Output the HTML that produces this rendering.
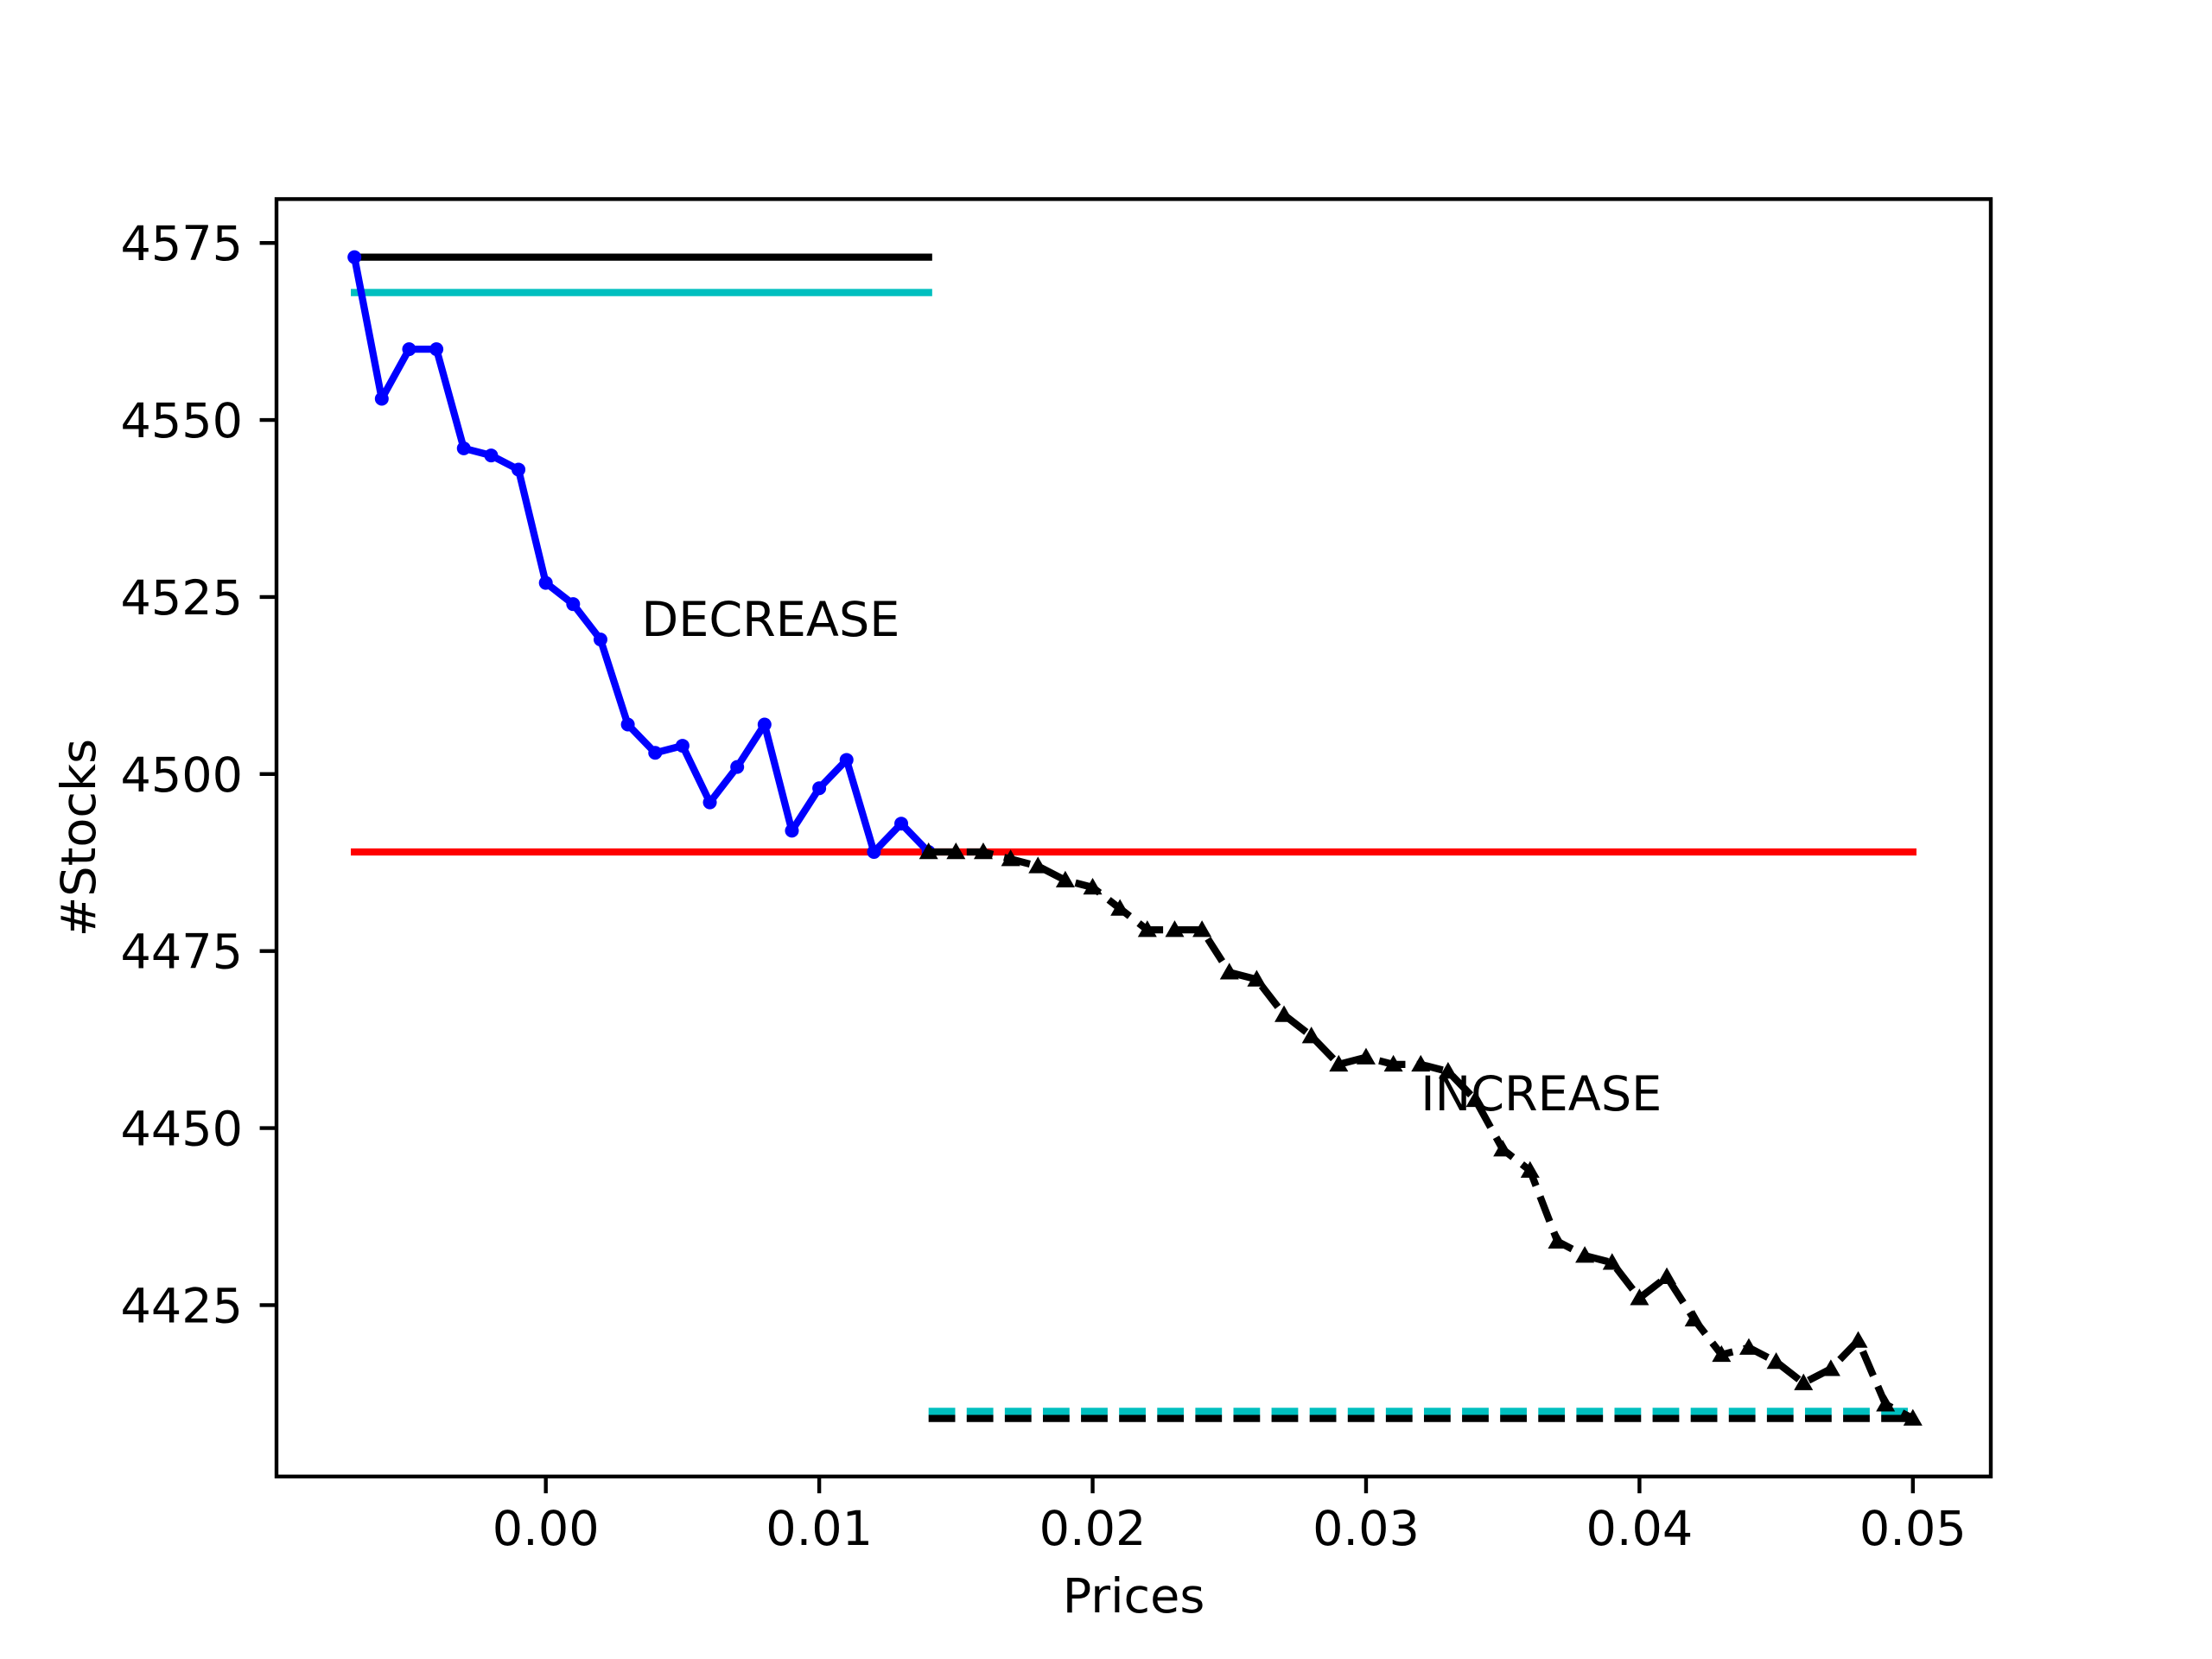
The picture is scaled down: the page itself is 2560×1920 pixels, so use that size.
<!DOCTYPE html>
<html><head><meta charset="utf-8"><style>
html,body{margin:0;padding:0;background:#fff}
svg{display:block;font-family:"DejaVu Sans","Liberation Sans",sans-serif}
</style></head><body>
<svg id="chart" width="2560" height="1920" viewBox="0 0 2560 1920" xmlns="http://www.w3.org/2000/svg">
<rect width="2560" height="1920" fill="#fff"/>
<g id="plot"></g>
<g id="axes"></g>
</svg>
<script>
const decX = [-0.007,-0.006,-0.005,-0.004,-0.003,-0.002,-0.001,0,0.001,0.002,0.003,0.004,0.005,0.006,0.007,0.008,0.009,0.010,0.011,0.012,0.013,0.014];
const decY = [4573,4553,4560,4560,4546,4545,4543,4527,4524,4519,4507,4503,4504,4496,4501,4507,4492,4498,4502,4489,4493,4489];
const incX = [0.014,0.015,0.016,0.017,0.018,0.019,0.020,0.021,0.022,0.023,0.024,0.025,0.026,0.027,0.028,0.029,0.030,0.031,0.032,0.033,0.034,0.035,0.036,0.037,0.038,0.039,0.040,0.041,0.042,0.043,0.044,0.045,0.046,0.047,0.048,0.049,0.050];
const incY = [4489,4489,4489,4488,4487,4485,4484,4481,4478,4478,4478,4472,4471,4466,4463,4459,4460,4459,4459,4458,4454,4447,4444,4434,4432,4431,4426,4429,4423,4418,4419,4417,4414,4416,4420,4411,4409];
const hlineNames = ['dec-max-line','dec-cyan-line','mid-red-line','inc-cyan-line','inc-min-line'];
const hlineY = [4573,4568,4489,4410,4409];
const hlineX0 = [-0.007,-0.007,-0.007,0.014,0.014];
const hlineX1 = [0.014,0.014,0.050,0.050,0.050];
const xTicks = [0,0.01,0.02,0.03,0.04,0.05];
const xTickLabels = ['0.00','0.01','0.02','0.03','0.04','0.05'];
const yTicks = [4425,4450,4475,4500,4525,4550,4575];
const yTickLabels = ['4425','4450','4475','4500','4525','4550','4575'];

const L=320,R=2304,T=230.4,B=1708.8;
const allX=decX.concat(incX), allY=decY.concat(incY,hlineY);
const xmin0=Math.min(...allX),xmax0=Math.max(...allX),ymin0=Math.min(...allY),ymax0=Math.max(...allY);
const xm=(xmax0-xmin0)*0.05, ym=(ymax0-ymin0)*0.05;
const xlo=xmin0-xm,xhi=xmax0+xm,ylo=ymin0-ym,yhi=ymax0+ym;
const sx=v=>L+(v-xlo)/(xhi-xlo)*(R-L);
const sy=v=>B-(v-ylo)/(yhi-ylo)*(B-T);
const NS='http://www.w3.org/2000/svg';
const plot=document.getElementById('plot'),axes=document.getElementById('axes');
function mk(tag,attrs,parent){const e=document.createElementNS(NS,tag);for(const k in attrs)e.setAttribute(k,attrs[k]);parent.appendChild(e);return e;}

const cols=['#000','#00bfbf','#ff0000','#00bfbf','#000'];
const dashed=[false,false,false,true,true];
for(let i=0;i<hlineY.length;i++){
  const l=mk('line',{x1:sx(hlineX0[i]),x2:sx(hlineX1[i]),y1:sy(hlineY[i]),y2:sy(hlineY[i]),stroke:cols[i],'stroke-width':8.3},plot);
  if(dashed[i]) l.setAttribute('stroke-dasharray','30.8 13.3');
  else l.setAttribute('stroke-linecap','square');
  
  
}
const dp=mk('polyline',{points:decX.map((x,i)=>sx(x)+','+sy(decY[i])).join(' '),fill:'none',stroke:'#0000ff','stroke-width':8.3,'stroke-linejoin':'round'},plot);


decX.forEach((x,i)=>{
  const c=mk('circle',{cx:sx(x),cy:sy(decY[i]),r:8,fill:'#0000ff'},plot);
  
  
});
const ip=mk('polyline',{points:incX.map((x,i)=>sx(x)+','+sy(incY[i])).join(' '),fill:'none',stroke:'#000','stroke-width':8.3,'stroke-dasharray':'30.8 13.3'},plot);


incX.forEach((x,i)=>{
  const cx=sx(x),cy=sy(incY[i]),s=11;
  const p=mk('polygon',{points:`${cx},${cy-s} ${cx-s},${cy+s*0.75} ${cx+s},${cy+s*0.75}`,fill:'#000'},plot);
  
  
});
const t1=mk('text',{x:sx(0.0035),y:sy(4520)+4,'font-size':55.6,fill:'#000'},plot);
t1.textContent='DECREASE';


const t2=mk('text',{x:sx(0.032),y:sy(4453)+4,'font-size':55.6,fill:'#000'},plot);
t2.textContent='INCREASE';



const fr=mk('rect',{x:L,y:T,width:R-L,height:B-T,fill:'none',stroke:'#000','stroke-width':4.4},axes);


xTicks.forEach((v,i)=>{
  const x=sx(v);
  const tk=mk('line',{x1:x,x2:x,y1:B,y2:B+19.4,stroke:'#000','stroke-width':4.4},axes);
  
  
  const t=mk('text',{x:x,y:B+79,'font-size':55.6,'text-anchor':'middle',fill:'#000'},axes);
  t.textContent=xTickLabels[i];
  
  
});
yTicks.forEach((v,i)=>{
  const y=sy(v);
  const tk=mk('line',{x1:L-19.4,x2:L,y1:y,y2:y,stroke:'#000','stroke-width':4.4},axes);
  
  
  const t=mk('text',{x:L-39,y:y+20,'font-size':55.6,'text-anchor':'end',fill:'#000'},axes);
  t.textContent=yTickLabels[i];
  
  
});
const xl=mk('text',{x:(L+R)/2,y:1866,'font-size':55.6,'text-anchor':'middle',fill:'#000'},axes);
xl.textContent='Prices';


const yl=mk('text',{x:0,y:0,'font-size':55.6,'text-anchor':'middle',fill:'#000',transform:`translate(110,${(T+B)/2}) rotate(-90)`},axes);
yl.textContent='#Stocks';


</script>
</body></html>
